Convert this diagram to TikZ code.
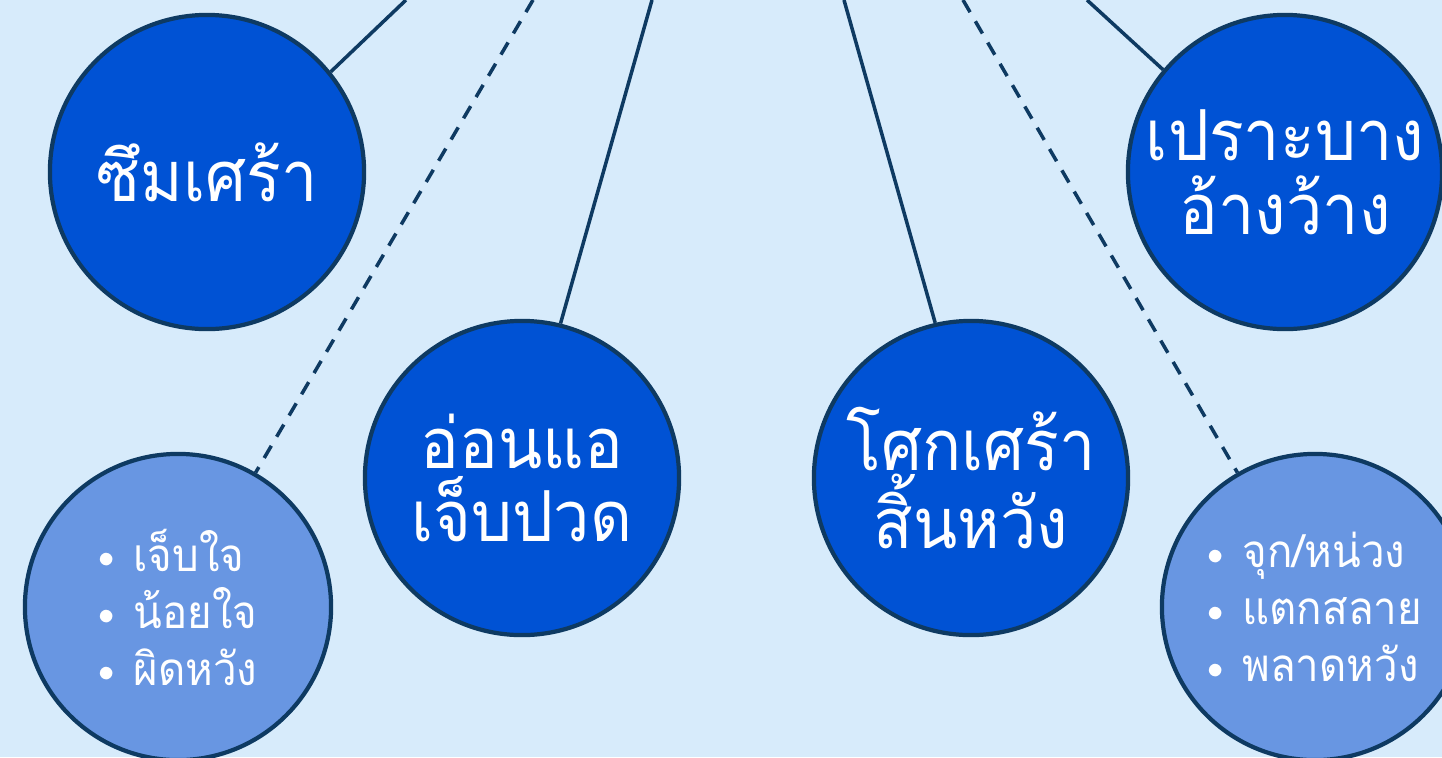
\documentclass[tikz,border=0pt]{standalone}
\usepackage{fontspec}
\newfontfamily\thaifont[Script=Thai, FakeStretch=0.92]{Loma}
\definecolor{bgblue}{HTML}{D7EBFB}
\definecolor{deepblue}{HTML}{0052D4}
\definecolor{softblue}{HTML}{6896E2}
\definecolor{navy}{HTML}{0E3A62}
\newcommand{\itemdot}{$\vcenter{\hbox{$\scriptstyle\bullet$}}$\hspace{0.4em}}

\begin{document}
\begin{tikzpicture}[x=0.01cm, y=-0.01cm,
		bigball/.style={circle, draw=navy, line width=1.2pt, fill=deepblue, minimum size=3.14cm, inner sep=0pt, text=white, align=center, font=\thaifont\fontsize{20}{21}\selectfont},
		smallball/.style={circle, draw=navy, line width=1.2pt, fill=softblue, minimum size=3.06cm, inner sep=0pt, text=white, align=left, font=\thaifont\fontsize{13}{16.2}\selectfont},
		link/.style={navy, line width=1pt},
		dashlink/.style={link, dash pattern=on 4pt off 3pt}]
			
			\fill[bgblue] (0,0) rectangle (1442,757);
			\useasboundingbox (0,0) rectangle (1442,757);
			\clip (0,0) rectangle (1442,757);
			
			% loose ends at the top edge
			\coordinate (t1) at (406,0);
			\coordinate (t2) at (533,0);
			\coordinate (t3) at (652,0);
			\coordinate (t4) at (844,0);
			\coordinate (t5) at (963,0);
			\coordinate (t6) at (1087,0);
			
			\node[bigball] (sad) at (207,172) {ซึมเศร้า};
			\node[bigball] (weak) at (522,478) {อ่อนแอ\\เจ็บปวด};
			\node[bigball] (grief) at (971,478) {โศกเศร้า\\สิ้นหวัง};
			\node[bigball] (fragile) at (1285,172) {เปราะบาง\\อ้างว้าง};
			
			\node[smallball] (hurtL) at (178,607) {\itemdot เจ็บใจ\\\itemdot น้อยใจ\\\itemdot ผิดหวัง};
			\node[smallball] (hurtR) at (1315,607) {\itemdot จุก/หน่วง\\\itemdot แตกสลาย\\\itemdot พลาดหวัง};
			
			\draw[link] (t1) -- (sad.39);
			\draw[dashlink] (t2) -- (hurtL.60);
			\draw[link] (t3) -- (weak.76);
			\draw[link] (t4) -- (grief.103);
			\draw[dashlink] (t5) -- (hurtR.120);
			\draw[link] (t6) -- (fragile.140);
		\end{tikzpicture}
\end{document}
